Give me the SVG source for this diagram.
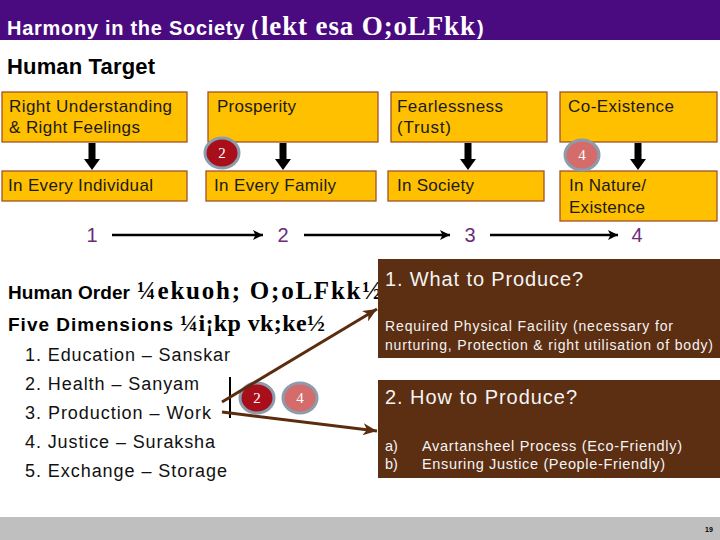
<svg xmlns="http://www.w3.org/2000/svg" width="720" height="540" viewBox="0 0 720 540">
<defs>
<style>
.sans{font-family:"Liberation Sans",Arial,sans-serif}
.serif{font-family:"Liberation Serif","Times New Roman",serif;font-weight:bold}
.box{fill:#FFC000;stroke:#A0522D;stroke-width:1.3}
.bt{font-family:"Liberation Sans",Arial,sans-serif;font-size:17px;fill:#1a1a1a}
.num{font-family:"Liberation Sans",Arial,sans-serif;font-size:20px;fill:#6B2C7A;text-anchor:middle}
.li{font-family:"Liberation Sans",Arial,sans-serif;font-size:18px;fill:#111}
.brown{fill:#5C2E12}
.wt{font-family:"Liberation Sans",Arial,sans-serif;fill:#F4F4F4}
.badge{stroke:#8A9CAE;stroke-width:3}
.bdt{font-family:"Liberation Serif","Times New Roman",serif;font-size:15px;fill:#fff;text-anchor:middle}
.seq{stroke:#000;stroke-width:2.5;fill:none}
.br{stroke:#5B2C0E;stroke-width:3;fill:none}
</style>
<path id="down" d="M-3.5,0 H3.5 V16 H8 L0,27 L-8,16 H-3.5 Z" fill="#000"/>
<marker id="ah" markerUnits="userSpaceOnUse" markerWidth="10" markerHeight="10" refX="10" refY="5" orient="auto">
<path d="M0,0 L10,5 L0,10 L2.5,5 Z" fill="#000"/>
</marker>
<marker id="bh" markerUnits="userSpaceOnUse" markerWidth="14" markerHeight="12" refX="14" refY="6" orient="auto">
<path d="M0,0 L14,6 L0,12 L4,6 Z" fill="#5B2C0E"/>
</marker>
</defs>
<rect width="720" height="540" fill="#fff"/>

<g id="title">
<rect x="0" y="0" width="720" height="40" fill="#4A0A80"/>
<text y="35" fill="#fff">
<tspan class="sans" x="7" font-size="20" font-weight="bold" textLength="251">Harmony in the Society (</tspan>
<tspan class="serif" x="261" font-size="27" textLength="214">lekt esa O;oLFkk</tspan>
<tspan class="sans" x="477" font-size="20" font-weight="bold">)</tspan>
</text>
</g>

<text class="sans" x="7" y="74" font-size="22" font-weight="bold" fill="#000" textLength="148">Human Target</text>

<g id="n-right-understanding">
<rect class="box" x="2" y="92" width="185" height="50"/>
<text class="bt" x="9" y="112" textLength="163">Right Understanding</text>
<text class="bt" x="9" y="133" textLength="131">&amp; Right Feelings</text>
</g>
<g id="n-prosperity">
<rect class="box" x="208" y="92" width="170" height="50"/>
<text class="bt" x="217" y="112" textLength="79">Prosperity</text>
</g>
<g id="n-fearlessness">
<rect class="box" x="391" y="92" width="156" height="50"/>
<text class="bt" x="397" y="112" textLength="106">Fearlessness</text>
<text class="bt" x="397" y="133" textLength="54">(Trust)</text>
</g>
<g id="n-coexistence">
<rect class="box" x="560" y="92" width="157" height="50"/>
<text class="bt" x="568" y="112" textLength="106">Co-Existence</text>
</g>

<g id="n-individual">
<rect class="box" x="2" y="171" width="185" height="30"/>
<text class="bt" x="8" y="191" textLength="145">In Every Individual</text>
</g>
<g id="n-family">
<rect class="box" x="206" y="171" width="170" height="30"/>
<text class="bt" x="214" y="191" textLength="122">In Every Family</text>
</g>
<g id="n-society">
<rect class="box" x="388" y="171" width="156" height="30"/>
<text class="bt" x="397" y="191" textLength="77">In Society</text>
</g>
<g id="n-nature">
<rect class="box" x="560" y="171" width="157" height="50"/>
<text class="bt" x="569" y="191" textLength="77">In Nature/</text>
<text class="bt" x="569" y="213" textLength="76">Existence</text>
</g>

<g id="badge-top-2">
<ellipse class="badge" cx="222" cy="153" rx="17" ry="15" fill="#A80F1A"/>
<text class="bdt" x="222" y="158">2</text>
</g>
<g id="badge-top-4">
<ellipse class="badge" cx="582" cy="155" rx="17" ry="15" fill="#D56C6C"/>
<text class="bdt" x="582" y="160">4</text>
</g>

<g id="n-seq-1"><text class="num" x="92" y="242">1</text></g>
<g id="n-seq-2"><text class="num" x="283" y="242">2</text></g>
<g id="n-seq-3"><text class="num" x="470" y="242">3</text></g>
<g id="n-seq-4"><text class="num" x="637" y="242">4</text></g>

<g id="n-human-order">
<text y="299" fill="#000">
<tspan class="sans" x="8" font-size="19" font-weight="bold" textLength="122">Human Order</tspan>
<tspan class="serif" x="137" font-size="25" textLength="244">¼ekuoh; O;oLFkk½</tspan>
</text>
<text y="331" fill="#000">
<tspan class="sans" x="8" font-size="19" font-weight="bold" textLength="165">Five Dimensions</tspan>
<tspan class="serif" x="180" font-size="24" textLength="145">¼i¡kp vk;ke½</tspan>
</text>
<text class="li" x="25" y="361" textLength="205">1. Education – Sanskar</text>
<text class="li" x="25" y="390" textLength="174">2. Health – Sanyam</text>
<text class="li" x="25" y="419" textLength="186">3. Production – Work</text>
<text class="li" x="25" y="448" textLength="190">4. Justice – Suraksha</text>
<text class="li" x="25" y="477" textLength="202">5. Exchange – Storage</text>
</g>

<g id="n-what">
<rect class="brown" x="378" y="259" width="342" height="99"/>
<text class="wt" x="385" y="286" font-size="20" textLength="198">1. What to Produce?</text>
<text class="wt" x="385" y="331" font-size="14" textLength="288">Required Physical Facility (necessary for</text>
<text class="wt" x="385" y="350" font-size="14" textLength="328">nurturing, Protection &amp; right utilisation of body)</text>
</g>
<g id="n-how">
<rect class="brown" x="378" y="380" width="342" height="98"/>
<text class="wt" x="385" y="404" font-size="20" textLength="192">2. How to Produce?</text>
<text class="wt" x="385" y="451" font-size="14.5">a)</text>
<text class="wt" x="422" y="451" font-size="14.5" textLength="260">Avartansheel Process (Eco-Friendly)</text>
<text class="wt" x="385" y="469" font-size="14.5">b)</text>
<text class="wt" x="422" y="469" font-size="14.5" textLength="243">Ensuring Justice (People-Friendly)</text>
</g>

<g id="badge-low-2">
<ellipse class="badge" cx="257" cy="398" rx="17" ry="15" fill="#A80F1A"/>
<text class="bdt" x="257" y="403">2</text>
</g>
<g id="badge-low-4">
<ellipse class="badge" cx="300" cy="398" rx="17" ry="15" fill="#D56C6C"/>
<text class="bdt" x="300" y="403">4</text>
</g>

<g id="connectors">
<use href="#down" x="92" y="143"/>
<use href="#down" x="283" y="143"/>
<use href="#down" x="468" y="143"/>
<use href="#down" x="638" y="143"/>
<line class="seq" x1="112" y1="235" x2="263" y2="235" marker-end="url(#ah)"/>
<line class="seq" x1="304" y1="235" x2="450" y2="235" marker-end="url(#ah)"/>
<line class="seq" x1="490" y1="235" x2="618" y2="235" marker-end="url(#ah)"/>
<line x1="230" y1="377" x2="230" y2="418" stroke="#000" stroke-width="2"/>
<line class="br" x1="222" y1="402" x2="377" y2="309" marker-end="url(#bh)"/>
<line class="br" x1="222" y1="412" x2="377" y2="431" marker-end="url(#bh)"/>
</g>

<g id="footer">
<rect x="0" y="517" width="720" height="23" fill="#BFBFBF"/>
<text class="sans" x="709" y="532" font-size="7" font-weight="bold" text-anchor="middle" fill="#000">19</text>
</g>
</svg>
